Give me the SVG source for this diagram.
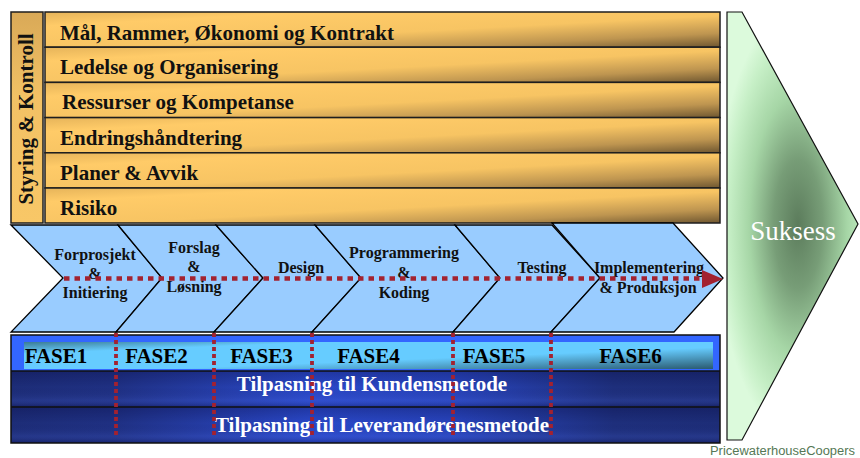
<svg xmlns="http://www.w3.org/2000/svg" width="860" height="458" viewBox="0 0 860 458">
  <defs>
    <linearGradient id="gold" x1="0" y1="0" x2="1" y2="1">
      <stop offset="0" stop-color="#E6B45A"/>
      <stop offset="0.2" stop-color="#FFCB68"/>
      <stop offset="0.55" stop-color="#F7C463"/>
      <stop offset="0.8" stop-color="#BE9550"/>
      <stop offset="1" stop-color="#6E5630"/>
    </linearGradient>
    <linearGradient id="goldBar" x1="0" y1="0" x2="0" y2="1">
      <stop offset="0" stop-color="#D9A957"/>
      <stop offset="0.4" stop-color="#F2C165"/>
      <stop offset="1" stop-color="#F8C767"/>
    </linearGradient>
    <linearGradient id="fase" x1="0" y1="0" x2="1" y2="1">
      <stop offset="0" stop-color="#3C7C94"/>
      <stop offset="0.22" stop-color="#66CCFF"/>
      <stop offset="0.6" stop-color="#66CCFF"/>
      <stop offset="1" stop-color="#2A5A70"/>
    </linearGradient>
    <linearGradient id="navy" x1="0" y1="0" x2="1" y2="0">
      <stop offset="0" stop-color="#1D2D78"/>
      <stop offset="0.14" stop-color="#1F3082"/>
      <stop offset="0.42" stop-color="#2A48C8"/>
      <stop offset="0.62" stop-color="#2844BC"/>
      <stop offset="0.85" stop-color="#1E2F7C"/>
      <stop offset="1" stop-color="#1D2D78"/>
    </linearGradient>
    <linearGradient id="navyShade" x1="0" y1="0" x2="0" y2="1">
      <stop offset="0" stop-color="#000030" stop-opacity="0.25"/>
      <stop offset="0.45" stop-color="#000030" stop-opacity="0"/>
      <stop offset="0.8" stop-color="#6080FF" stop-opacity="0.12"/>
      <stop offset="1" stop-color="#000030" stop-opacity="0.3"/>
    </linearGradient>
    <radialGradient id="green" gradientUnits="userSpaceOnUse" cx="798" cy="224" r="215" gradientTransform="translate(798 224) scale(0.38 1) translate(-798 -224)">
      <stop offset="0" stop-color="#5C7C5C"/>
      <stop offset="0.3" stop-color="#779D77"/>
      <stop offset="0.6" stop-color="#A6D6A6"/>
      <stop offset="0.85" stop-color="#C6EFC6"/>
      <stop offset="1" stop-color="#DCFADC"/>
    </radialGradient>
    <style>
      .row { stroke: #1E1E1E; stroke-width: 1.5; fill: url(#gold); }
      .lbl { font-family: "Liberation Serif", "Times New Roman", serif; font-weight: bold; font-size: 21px; fill: #111; }
      .ph { font-family: "Liberation Serif", "Times New Roman", serif; font-weight: bold; font-size: 16px; fill: #111; text-anchor: middle; }
      .fase { font-family: "Liberation Serif", "Times New Roman", serif; font-weight: bold; font-size: 21px; fill: #000; text-anchor: middle; }
      .tp { font-family: "Liberation Serif", "Times New Roman", serif; font-weight: bold; font-size: 21px; fill: #FFFFFF; text-anchor: middle; }
      .big { font-family: "Liberation Serif", "Times New Roman", serif; font-size: 27px; fill: #FFFFFF; text-anchor: middle; }
      .credit { font-family: "Liberation Sans", Arial, sans-serif; font-size: 12px; fill: #557755; }
      .chev { fill: #99CCFF; stroke: #000; stroke-width: 1.3; stroke-linejoin: miter; }
      .dotH { stroke: #A32230; stroke-width: 4.5; stroke-dasharray: 5.5 5; fill: none; }
      .dotV { stroke: #A32230; stroke-width: 3.8; stroke-dasharray: 4 3; fill: none; }
    </style>
  </defs>

  <!-- Management bands -->
  <g id="styring">
    <rect x="11" y="12" width="32" height="211" fill="url(#goldBar)" stroke="#1E1E1E" stroke-width="1.5"/>
    <text class="lbl" transform="translate(33 119) rotate(-90)" text-anchor="middle">Styring &amp; Kontroll</text>
  </g>
  <g id="rad-maal">
    <rect class="row" x="45" y="12" width="675" height="35.2"/>
    <text class="lbl" x="60" y="39.5">Mål, Rammer, Økonomi og Kontrakt</text>
  </g>
  <g id="rad-ledelse">
    <rect class="row" x="45" y="47.2" width="675" height="35.2"/>
    <text class="lbl" x="60" y="74">Ledelse og Organisering</text>
  </g>
  <g id="rad-ressurser">
    <rect class="row" x="45" y="82.4" width="675" height="35.2"/>
    <text class="lbl" x="62" y="109">Ressurser og Kompetanse</text>
  </g>
  <g id="rad-endring">
    <rect class="row" x="45" y="117.6" width="675" height="35.2"/>
    <text class="lbl" x="60" y="144.5">Endringshåndtering</text>
  </g>
  <g id="rad-planer">
    <rect class="row" x="45" y="152.8" width="675" height="35.2"/>
    <text class="lbl" x="60" y="179.5">Planer &amp; Avvik</text>
  </g>
  <g id="rad-risiko">
    <rect class="row" x="45" y="188" width="675" height="35"/>
    <text class="lbl" x="60" y="214.5">Risiko</text>
  </g>

  <!-- Phase chevrons -->
  <g id="chevron-forprosjekt">
    <polygon class="chev" points="11,225 63,278 11,332 116,332 162,278 118,225"/>
    <text class="ph" x="95" y="260">Forprosjekt</text>
    <text class="ph" x="95" y="279">&amp;</text>
    <text class="ph" x="95" y="298">Initiering</text>
  </g>
  <g id="chevron-forslag">
    <polygon class="chev" points="118,225 162,278 116,332 214,332 263,278 216,225"/>
    <text class="ph" x="194" y="253">Forslag</text>
    <text class="ph" x="194" y="272">&amp;</text>
    <text class="ph" x="194" y="292">Løsning</text>
  </g>
  <g id="chevron-design">
    <polygon class="chev" points="216,225 263,278 214,332 312,332 361,278 315,225"/>
    <text class="ph" x="301" y="273">Design</text>
  </g>
  <g id="chevron-programmering">
    <polygon class="chev" points="315,225 361,278 312,332 453,332 500,278 455,225"/>
    <text class="ph" x="404" y="258">Programmering</text>
    <text class="ph" x="404" y="278">&amp;</text>
    <text class="ph" x="404" y="298">Koding</text>
  </g>
  <g id="chevron-testing">
    <polygon class="chev" points="455,225 500,278 453,332 551,332 600,278 552,225"/>
    <text class="ph" x="542" y="273">Testing</text>
  </g>
  <g id="chevron-implementering">
    <polygon class="chev" points="552,223 600,278 551,332 674,332 723,278 673,223"/>
    <text class="ph" x="649" y="273">Implementering</text>
    <text class="ph" x="648" y="293">&amp; Produksjon</text>
  </g>

  <!-- Phase table -->
  <g id="fase-rad">
    <rect x="11" y="335" width="709" height="36" fill="#3366FF"/>
    <rect x="24" y="342" width="689" height="27" fill="url(#fase)"/>
    <text class="fase" x="56" y="363">FASE1</text>
    <text class="fase" x="156.5" y="363">FASE2</text>
    <text class="fase" x="261.5" y="363">FASE3</text>
    <text class="fase" x="368.5" y="363">FASE4</text>
    <text class="fase" x="494" y="363">FASE5</text>
    <text class="fase" x="630.5" y="363">FASE6</text>
  </g>
  <g id="kunde-rad">
    <rect x="11" y="371" width="709" height="36" fill="url(#navy)"/>
    <rect x="11" y="371" width="709" height="36" fill="url(#navyShade)"/>
    <text class="tp" x="372" y="391">Tilpasning til Kundensmetode</text>
  </g>
  <g id="leverandor-rad">
    <rect x="11" y="407" width="709" height="36" fill="url(#navy)"/>
    <rect x="11" y="407" width="709" height="36" fill="url(#navyShade)"/>
    <text class="tp" x="382" y="432">Tilpasning til Leverandørenesmetode</text>
  </g>
  <g id="tabell-ramme" fill="none" stroke="#111" stroke-width="1.5">
    <rect x="11" y="335" width="709" height="108"/>
    <line x1="11" y1="371" x2="720" y2="371"/>
    <line x1="11" y1="407" x2="720" y2="407"/>
  </g>

  <!-- Dotted flow lines -->
  <g id="connectors">
    <line class="dotH" x1="64" y1="278.5" x2="703" y2="278.5"/>
    <polygon points="702,270 723,279 702,288" fill="#A32230"/>
    <line class="dotV" x1="116" y1="333" x2="116" y2="438"/>
    <line class="dotV" x1="214" y1="333" x2="214" y2="438"/>
    <line class="dotV" x1="312" y1="333" x2="312" y2="438"/>
    <line class="dotV" x1="453" y1="333" x2="453" y2="438"/>
    <line class="dotV" x1="551" y1="333" x2="551" y2="438"/>
  </g>

  <!-- Outcome arrow -->
  <g id="suksess">
    <polygon points="727,12 742,12 858,224 742,440 727,440" fill="url(#green)" stroke="#111" stroke-width="1.2"/>
    <text class="big" x="793" y="240">Suksess</text>
  </g>

  <text class="credit" x="710" y="455" textLength="145" lengthAdjust="spacingAndGlyphs">PricewaterhouseCoopers</text>
</svg>
